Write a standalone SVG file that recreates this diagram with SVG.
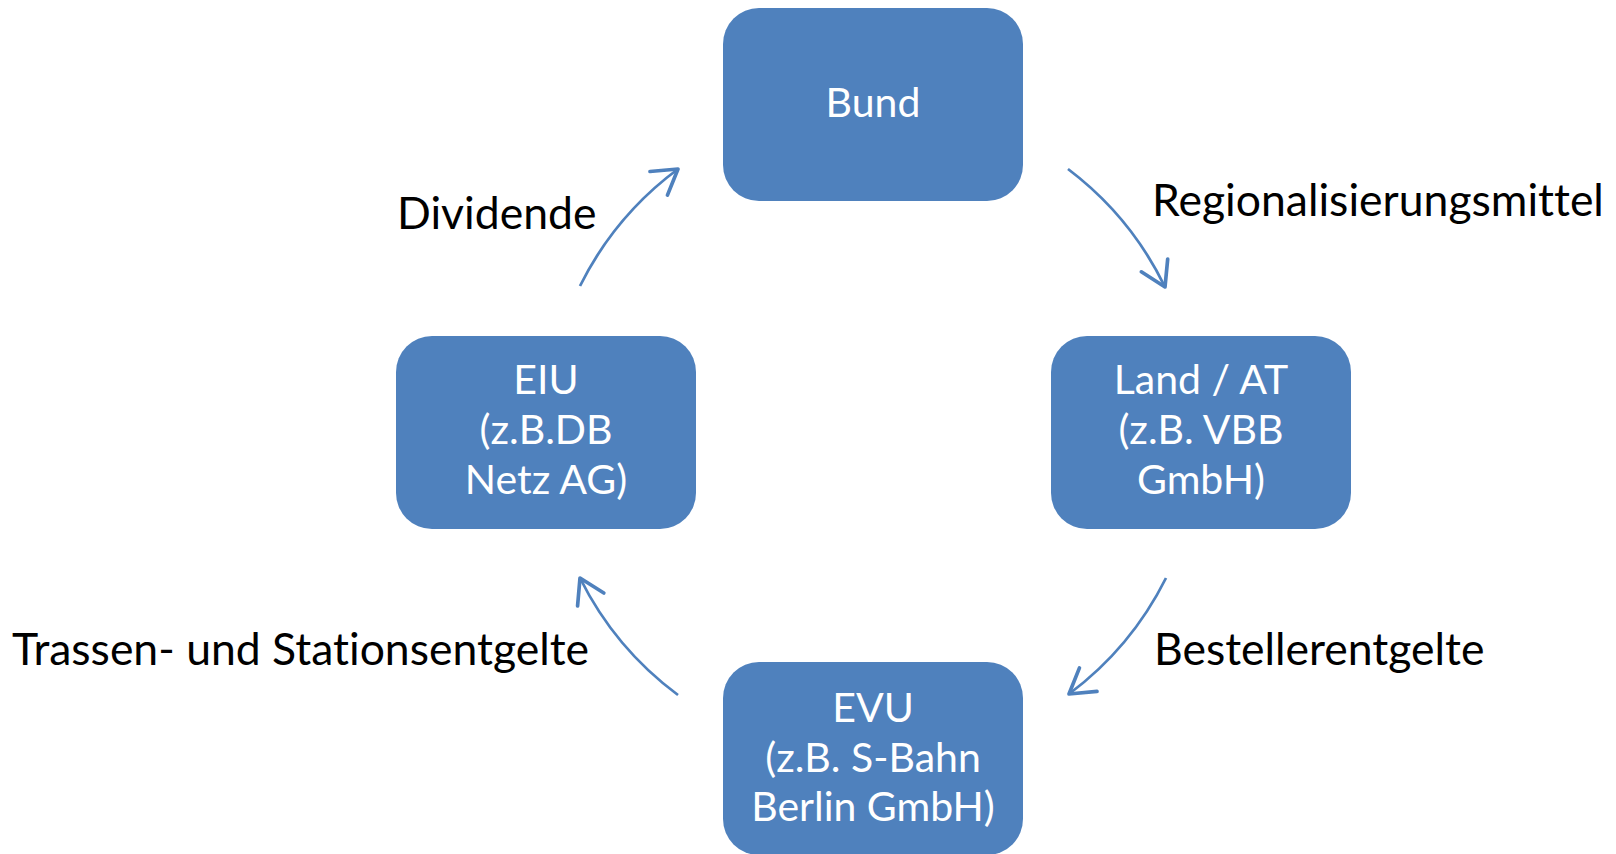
<svg xmlns="http://www.w3.org/2000/svg" width="1616" height="854" viewBox="0 0 1616 854">
<defs>
<style>
.box{fill:#4F81BD;}
.nt{font-family:Lato,"Open Sans",sans-serif;font-size:41px;fill:#FFFFFF;text-anchor:middle;font-variant-ligatures:none;}
.lb{font-family:Lato,"Open Sans",sans-serif;font-size:44.5px;fill:#000000;font-variant-ligatures:none;}
.arc{fill:none;stroke:#4F81BD;stroke-width:2.75;}
</style>
<marker id="ah" markerUnits="userSpaceOnUse" markerWidth="40" markerHeight="40" viewBox="-25 -15 30 30" refX="0" refY="0" orient="auto">
<path d="M-18,-11 L0,0 L-18,11" fill="none" stroke="#4F81BD" stroke-width="2.75" stroke-linecap="round" stroke-linejoin="round"/>
</marker>
</defs>
<rect width="1616" height="854" fill="#FFFFFF"/>
<g id="connectors">
<path class="arc" d="M1068,169 A327,327 0 0 1 1165,287" marker-end="url(#ah)"/>
<path class="arc" d="M1166,578 A327,327 0 0 1 1069,694" marker-end="url(#ah)"/>
<path class="arc" d="M678,695 A327,327 0 0 1 580,578" marker-end="url(#ah)"/>
<path class="arc" d="M580,286 A327,327 0 0 1 678,169" marker-end="url(#ah)"/>
</g>
<g id="node-bund">
<rect class="box" x="723" y="8" width="300" height="193" rx="36" ry="36"/>
<text class="nt" x="873" y="117">Bund</text>
</g>
<g id="node-land">
<rect class="box" x="1051" y="336" width="300" height="193" rx="36" ry="36"/>
<text class="nt" x="1201" y="394">Land / AT</text>
<text class="nt" x="1201" y="444">(z.B. VBB</text>
<text class="nt" x="1201" y="494">GmbH)</text>
</g>
<g id="node-eiu">
<rect class="box" x="396" y="336" width="300" height="193" rx="36" ry="36"/>
<text class="nt" x="546" y="394">EIU</text>
<text class="nt" x="546" y="444">(z.B.DB</text>
<text class="nt" x="546" y="494">Netz AG)</text>
</g>
<g id="node-evu">
<rect class="box" x="723" y="662" width="300" height="193" rx="36" ry="36"/>
<text class="nt" x="873" y="722">EVU</text>
<text class="nt" x="873" y="772">(z.B. S-Bahn</text>
<text class="nt" x="873" y="821">Berlin GmbH)</text>
</g>
<g id="labels">
<text class="lb" x="1152" y="216">Regionalisierungsmittel</text>
<text class="lb" x="397" y="229">Dividende</text>
<text class="lb" x="12" y="665">Trassen- und Stationsentgelte</text>
<text class="lb" x="1154" y="665">Bestellerentgelte</text>
</g>
</svg>
